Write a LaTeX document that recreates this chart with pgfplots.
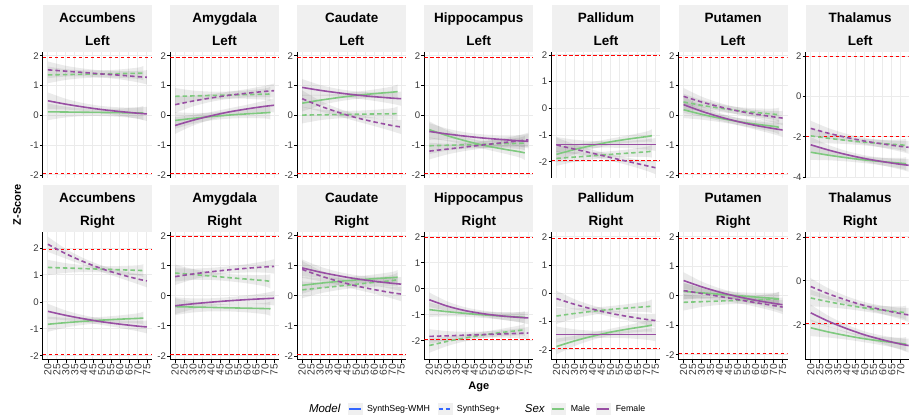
\documentclass[border=0pt]{standalone}
\usepackage{fontspec}
\setmainfont{Liberation Sans}
\usepackage{pgfplots}
\usepackage{pgfplotstable}
\pgfplotsset{compat=1.18}
\usepgfplotslibrary{fillbetween}

\definecolor{male}{HTML}{7FC97F}
\definecolor{female}{HTML}{984EA3}
\definecolor{gridc}{HTML}{EBEBEB}
\definecolor{stripc}{HTML}{F0F0F0}
\definecolor{tickc}{HTML}{3A3A3A}
\definecolor{keyblue}{HTML}{3366FF}

% a: age (female), fs/fd: female SynthSeg-WMH / SynthSeg+
% m: age (male),   ms/md: male SynthSeg-WMH / SynthSeg+, w: ribbon half width
\pgfplotstableread{
a  fs     fd     m  ms     md     w
20 0.49   1.53   20 0.12   1.36   0.28
30 0.376  1.485  30 0.113  1.371  0.18
40 0.279  1.44   40 0.106  1.382  0.13
50 0.195  1.39   50 0.098  1.393  0.12
60 0.129  1.35   60 0.091  1.404  0.14
70 0.072  1.30   70 0.084  1.415  0.19
75 0.05   1.28   73 0.08   1.42   0.24
}\tAccL
\pgfplotstableread{
a  fs     fd     m  ms     md     w
20 -0.34  0.36   20 -0.17  0.64   0.28
30 -0.163 0.482  30 -0.10  0.654  0.18
40 -0.014 0.586  40 -0.04  0.669  0.13
50 0.116  0.675  50 0.011  0.684  0.12
60 0.218  0.745  60 0.051  0.698  0.14
70 0.306  0.807  70 0.087  0.713  0.19
75 0.34   0.83   73 0.10   0.72   0.24
}\tAmyL
\pgfplotstableread{
a  fs     fd     m  ms     md     w
20 0.94   0.56   20 0.41   0.01   0.28
30 0.841  0.313  30 0.511  0.019  0.18
40 0.758  0.104  40 0.597  0.028  0.13
50 0.685  -0.077 50 0.671  0.038  0.12
60 0.628  -0.219 60 0.73   0.047  0.14
70 0.579  -0.343 70 0.78   0.055  0.19
75 0.56   -0.39  73 0.80   0.06   0.24
}\tCauL
\pgfplotstableread{
a  fs     fd     m  ms     md     w
20 -0.54  -1.2   20 -0.48  -1.02  0.28
30 -0.626 -1.132 30 -0.683 -1.004 0.18
40 -0.698 -1.063 40 -0.854 -0.988 0.13
50 -0.761 -0.991 50 -1.003 -0.971 0.12
60 -0.81  -0.923 60 -1.12  -0.954 0.14
70 -0.854 -0.854 70 -1.221 -0.938 0.19
75 -0.87  -0.82  73 -1.26  -0.93  0.24
}\tHipL
\pgfplotstableread{
a  fs     fd     m  ms     md     w
20 -1.35  -1.37  20 -1.72  -1.87  0.28
30 -1.35  -1.523 30 -1.538 -1.821 0.18
40 -1.35  -1.676 40 -1.384 -1.773 0.13
50 -1.35  -1.837 50 -1.251 -1.721 0.12
60 -1.35  -1.99  60 -1.146 -1.673 0.14
70 -1.35  -2.144 70 -1.055 -1.624 0.19
75 -1.35  -2.22  73 -1.02  -1.6   0.24
}\tPalL
\pgfplotstableread{
a  fs     fd     m  ms     md     w
20 0.36   0.64   20 0.19   0.45   0.28
30 0.139  0.45   30 0.037  0.338  0.18
40 -0.048 0.29   40 -0.093 0.244  0.13
50 -0.205 0.15   50 -0.203 0.162  0.12
60 -0.337 0.04   60 -0.293 0.097  0.14
70 -0.443 -0.05  70 -0.368 0.041  0.19
75 -0.49  -0.09  73 -0.40  0.02   0.24
}\tPutL
\pgfplotstableread{
a  fs     fd     m  ms     md     w
20 -2.39  -1.58  20 -2.76  -1.95  0.38
30 -2.655 -1.824 30 -2.908 -2.072 0.25
40 -2.88  -2.031 40 -3.034 -2.176 0.18
50 -3.073 -2.21  50 -3.142 -2.265 0.16
60 -3.226 -2.351 60 -3.227 -2.335 0.19
70 -3.359 -2.473 70 -3.302 -2.397 0.26
75 -3.41  -2.52  73 -3.33  -2.42  0.33
}\tThaL
\pgfplotstableread{
a  fs     fd     m  ms     md     w
20 -0.35  2.14   20 -0.83  1.28   0.28
30 -0.501 1.786  30 -0.77  1.258  0.18
40 -0.628 1.487  40 -0.72  1.237  0.13
50 -0.739 1.229  50 -0.676 1.214  0.12
60 -0.826 1.025  60 -0.641 1.192  0.14
70 -0.901 0.848  70 -0.612 1.171  0.19
75 -0.93  0.78   73 -0.60  1.16   0.24
}\tAccR
\pgfplotstableread{
a  fs     fd     m  ms     md     w
20 -0.33  0.64   20 -0.36  0.76   0.28
30 -0.265 0.728  30 -0.373 0.71   0.18
40 -0.21  0.803  40 -0.385 0.659  0.13
50 -0.164 0.866  50 -0.399 0.606  0.12
60 -0.125 0.919  60 -0.411 0.556  0.14
70 -0.094 0.963  70 -0.424 0.505  0.19
75 -0.08  0.98   73 -0.43  0.48   0.24
}\tAmyR
\pgfplotstableread{
a  fs     fd     m  ms     md     w
20 0.93   0.88   20 0.35   0.20   0.28
30 0.79   0.667  30 0.42   0.262  0.18
40 0.671  0.486  40 0.48   0.322  0.13
50 0.568  0.331  50 0.53   0.387  0.12
60 0.487  0.208  60 0.571  0.448  0.14
70 0.417  0.101  70 0.607  0.509  0.19
75 0.39   0.06   73 0.62   0.54   0.24
}\tCauR
\pgfplotstableread{
a  fs     fd     m  ms     md     w
20 -0.42  -1.83  20 -0.80  -2.18  0.28
30 -0.665 -1.807 30 -0.879 -2.02  0.18
40 -0.84  -1.783 40 -0.944 -1.887 0.13
50 -0.959 -1.759 50 -1.0   -1.771 0.12
60 -1.043 -1.735 60 -1.046 -1.68  0.14
70 -1.099 -1.712 70 -1.085 -1.60  0.19
75 -1.12  -1.70  73 -1.10  -1.57  0.24
}\tHipR
\pgfplotstableread{
a  fs     fd     m  ms     md     w
20 -1.45  -0.18  20 -1.88  -0.80  0.28
30 -1.45  -0.383 30 -1.682 -0.709 0.18
40 -1.45  -0.554 40 -1.515 -0.632 0.13
50 -1.45  -0.703 50 -1.371 -0.567 0.12
60 -1.45  -0.82  60 -1.257 -0.513 0.14
70 -1.45  -0.921 70 -1.158 -0.468 0.19
75 -1.45  -0.96  73 -1.12  -0.45  0.24
}\tPalR
\pgfplotstableread{
a  fs     fd     m  ms     md     w
20 0.52   0.18   20 0.15   -0.22  0.28
30 0.307  0.08   30 0.103  -0.198 0.18
40 0.126  -0.02  40 0.056  -0.176 0.13
50 -0.025 -0.128 50 0.007  -0.154 0.12
60 -0.151 -0.229 60 -0.04  -0.133 0.14
70 -0.255 -0.33  70 -0.086 -0.111 0.19
75 -0.30  -0.38  73 -0.11  -0.10  0.24
}\tPutR
\pgfplotstableread{
a  fs     fd     m  ms     md     w
20 -1.46  -0.26  20 -2.14  -0.78  0.38
30 -1.85  -0.598 30 -2.335 -0.957 0.25
40 -2.18  -0.884 40 -2.5   -1.106 0.18
50 -2.465 -1.131 50 -2.643 -1.236 0.16
60 -2.69  -1.326 60 -2.755 -1.338 0.19
70 -2.885 -1.495 70 -2.853 -1.426 0.26
75 -2.96  -1.56  73 -2.89  -1.46  0.33
}\tThaR

\newcommand{\band}[3]{%
  \addplot[draw=none, smooth, name path=up#3] table[x=#2, y expr=\thisrow{#3}+\thisrow{w}]{#1};
  \addplot[draw=none, smooth, name path=lo#3] table[x=#2, y expr=\thisrow{#3}-\thisrow{w}]{#1};
  \addplot[fill=black, fill opacity=0.08, draw=none] fill between[of=up#3 and lo#3];
}
\tikzset{
  refl/.style={red, line width=1pt, dash pattern=on 3.5pt off 2.5pt},
  wmh/.style={line width=1.6pt, smooth},
  plus/.style={line width=1.6pt, smooth, dash pattern=on 4.5pt off 3pt},
}
\newcommand{\curves}[1]{%
  \addplot[refl] coordinates {(17.25,1.96) (77.75,1.96)};
  \addplot[refl] coordinates {(17.25,-1.96) (77.75,-1.96)};
  \band{#1}{a}{fs}
  \band{#1}{a}{fd}
  \band{#1}{m}{ms}
  \band{#1}{m}{md}
  \addplot[male, wmh] table[x=m, y=ms]{#1};
  \addplot[male, plus] table[x=m, y=md]{#1};
  \addplot[female, wmh] table[x=a, y=fs]{#1};
  \addplot[female, plus] table[x=a, y=fd]{#1};
}

\pgfplotsset{
  panel/.style={
    scale only axis, width=109pt,
    xmin=17.25, xmax=77.75,
    axis lines*=left,
    axis line style={black, line width=1pt},
    tick align=outside, major tick length=3pt,
    tick style={black, line width=0.8pt},
    grid=major, major grid style={gridc, line width=1pt},
    yticklabel style={font=\fontsize{9.6}{11}\selectfont, color=tickc, inner sep=1pt},
    xticklabel style={font=\fontsize{10.3}{11}\selectfont, color=tickc, rotate=90, anchor=east, inner sep=1pt},
    /pgf/number format/assume math mode=true,
    ytick={-2,-1,0,1,2},
    anchor=north west,
  },
  toprow/.style={panel, height=126pt, xtick=\empty,
    extra x ticks={20,25,30,35,40,45,50,55,60,65,70,75}, extra x tick labels={},
    extra x tick style={grid=major, major tick length=0pt},
    x axis line style={draw=none}},
  botrow/.style={panel, height=128pt, xtick={20,25,30,35,40,45,50,55,60,65,70,75}},
  % the last column is cut by the right edge of the figure
  lastcol/.style={width=102.8pt, xmax=74.3},
}

\begin{document}
\begin{tikzpicture}
\path (0pt,0pt) rectangle (909pt,-418pt);

% facet strips
\foreach \i/\n in {0/Accumbens,1/Amygdala,2/Caudate,3/Hippocampus,4/Pallidum,5/Putamen,6/Thalamus} {
  \pgfmathsetmacro\xl{43+127.2*\i}
  \pgfmathsetmacro\sw{\i==6 ? 102.8 : 109}
  \fill[stripc] (\xl pt,-5pt) rectangle ++(\sw pt,-47pt);
  \fill[stripc] (\xl pt,-185pt) rectangle ++(\sw pt,-47pt);
  \node[anchor=base, inner sep=0pt, font=\bfseries\fontsize{13.5}{15}\selectfont] at (\xl pt+54.5pt,-23pt) {\n};
  \node[anchor=base, inner sep=0pt, font=\bfseries\fontsize{13.5}{15}\selectfont] at (\xl pt+54.5pt,-46pt) {Left};
  \node[anchor=base, inner sep=0pt, font=\bfseries\fontsize{13.5}{15}\selectfont] at (\xl pt+54.5pt,-203pt) {\n};
  \node[anchor=base, inner sep=0pt, font=\bfseries\fontsize{13.5}{15}\selectfont] at (\xl pt+54.5pt,-226pt) {Right};
}

% left hemisphere
\begin{axis}[toprow, at={(43pt,-52pt)}, ymin=-2.1, ymax=2.13] \curves\tAccL \end{axis}
\begin{axis}[toprow, at={(170.2pt,-52pt)}, ymin=-2.1, ymax=2.13] \curves\tAmyL \end{axis}
\begin{axis}[toprow, at={(297.4pt,-52pt)}, ymin=-2.1, ymax=2.13] \curves\tCauL \end{axis}
\begin{axis}[toprow, at={(424.6pt,-52pt)}, ymin=-2.1, ymax=2.13] \curves\tHipL \end{axis}
\begin{axis}[toprow, at={(551.8pt,-52pt)}, ymin=-2.6, ymax=2.11] \curves\tPalL \end{axis}
\begin{axis}[toprow, at={(679pt,-52pt)}, ymin=-2.1, ymax=2.13] \curves\tPutL \end{axis}
\begin{axis}[toprow, lastcol, at={(806.2pt,-52pt)}, ymin=-4.03, ymax=2.2, ytick={-4,-2,0,2}] \curves\tThaL \end{axis}

% right hemisphere
\begin{axis}[botrow, at={(43pt,-232pt)}, ymin=-2.15, ymax=2.6] \curves\tAccR \end{axis}
\begin{axis}[botrow, at={(170.2pt,-232pt)}, ymin=-2.13, ymax=2.13] \curves\tAmyR \end{axis}
\begin{axis}[botrow, at={(297.4pt,-232pt)}, ymin=-2.13, ymax=2.13] \curves\tCauR \end{axis}
\begin{axis}[botrow, at={(424.6pt,-232pt)}, ymin=-2.73, ymax=2.19] \curves\tHipR \end{axis}
\begin{axis}[botrow, at={(551.8pt,-232pt)}, ymin=-2.35, ymax=2.18] \curves\tPalR \end{axis}
\begin{axis}[botrow, at={(679pt,-232pt)}, ymin=-2.17, ymax=2.17] \curves\tPutR \end{axis}
\begin{axis}[botrow, lastcol, at={(806.2pt,-232pt)}, ymin=-3.6, ymax=2.23, ytick={-2,0,2}] \curves\tThaR \end{axis}

% axis titles
\node[font=\bfseries\fontsize{11}{13}\selectfont] at (479pt,-387pt) {Age};
\node[font=\bfseries\fontsize{11}{13}\selectfont, rotate=90] at (17pt,-205pt) {Z-Score};

% legend
\node[anchor=base west, inner sep=0pt, font=\itshape\fontsize{11.5}{13}\selectfont] at (309pt,-413pt) {Model};
\fill[stripc] (348pt,-403pt) rectangle (363pt,-415pt);
\draw[keyblue, line width=1.6pt] (349.5pt,-409pt) -- (361.5pt,-409pt);
\node[anchor=base west, inner sep=0pt, font=\fontsize{8.8}{10}\selectfont] at (367pt,-412.2pt) {SynthSeg-WMH};
\fill[stripc] (438pt,-403pt) rectangle (453pt,-415pt);
\draw[keyblue, line width=1.6pt, dash pattern=on 4pt off 3pt] (439pt,-409pt) -- (452pt,-409pt);
\node[anchor=base west, inner sep=0pt, font=\fontsize{8.8}{10}\selectfont] at (457pt,-412.2pt) {SynthSeg+};
\node[anchor=base west, inner sep=0pt, font=\itshape\fontsize{11.5}{13}\selectfont] at (525pt,-413pt) {Sex};
\fill[stripc] (551pt,-403pt) rectangle (566pt,-415pt);
\draw[male, line width=1.6pt] (552.5pt,-409pt) -- (564.5pt,-409pt);
\node[anchor=base west, inner sep=0pt, font=\fontsize{8.8}{10}\selectfont] at (571pt,-412.2pt) {Male};
\fill[stripc] (596pt,-403pt) rectangle (611pt,-415pt);
\draw[female, line width=1.6pt] (597.5pt,-409pt) -- (609.5pt,-409pt);
\node[anchor=base west, inner sep=0pt, font=\fontsize{8.8}{10}\selectfont] at (616pt,-412.2pt) {Female};
\end{tikzpicture}
\end{document}
